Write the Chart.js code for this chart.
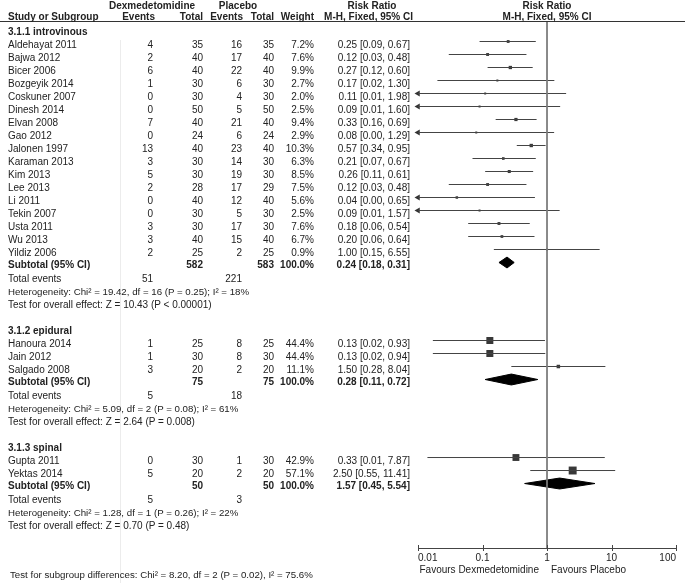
<!DOCTYPE html>
<html>
<head>
<meta charset="utf-8">
<script src="https://cdn.jsdelivr.net/npm/chart.js@4.4.0/dist/chart.umd.min.js"></script>
<style>
  html, body { margin: 0; padding: 0; background: #fff; }
  #wrap { position: relative; width: 685px; height: 583px; overflow: hidden;
          font-family: "Liberation Sans", Arial, sans-serif; font-size: 10px; color: #222; }
  #plot { position: absolute; left: 0; top: 0; }
  .t { position: absolute; white-space: nowrap; line-height: 12px; }
  .b { font-weight: bold; }
  #rule { position: absolute; left: 0; top: 21px; width: 685px; height: 1px; background: #333; }
  #sep { position: absolute; left: 120px; top: 40px; width: 1px; height: 543px; background: #ececec; }
</style>
</head>
<body>
<div id="wrap">
  <div id="sep"></div>
  <canvas id="plot" width="685" height="583"></canvas>
  <div id="rule"></div>
</div>
<script>
// subgroups
const groupNames = ['3.1.1 introvinous', '3.1.2 epidural', '3.1.3 spinal'];

// studies (group index, events, totals, weight, risk ratio and 95% CI)
const studies = ['Aldehayat 2011', 'Bajwa 2012', 'Bicer 2006', 'Bozgeyik 2014', 'Coskuner 2007',
  'Dinesh 2014', 'Elvan 2008', 'Gao 2012', 'Jalonen 1997', 'Karaman 2013', 'Kim 2013', 'Lee 2013',
  'Li 2011', 'Tekin 2007', 'Usta 2011', 'Wu 2013', 'Yildiz 2006',
  'Hanoura 2014', 'Jain 2012', 'Salgado 2008',
  'Gupta 2011', 'Yektas 2014'];
const studyGroup = [0, 0, 0, 0, 0, 0, 0, 0, 0, 0, 0, 0, 0, 0, 0, 0, 0, 1, 1, 1, 2, 2];
const dexEvents = [4, 2, 6, 1, 0, 0, 7, 0, 13, 3, 5, 2, 0, 0, 3, 3, 2, 1, 1, 3, 0, 5];
const dexTotal = [35, 40, 40, 30, 30, 50, 40, 24, 40, 30, 30, 28, 40, 30, 30, 40, 25, 25, 30, 20, 30, 20];
const plaEvents = [16, 17, 22, 6, 4, 5, 21, 6, 23, 14, 19, 17, 12, 5, 17, 15, 2, 8, 8, 2, 1, 2];
const plaTotal = [35, 40, 40, 30, 30, 50, 40, 24, 40, 30, 30, 29, 40, 30, 30, 40, 25, 25, 30, 20, 30, 20];
const weights = [7.2, 7.6, 9.9, 2.7, 2.0, 2.5, 9.4, 2.9, 10.3, 6.3, 8.5, 7.5, 5.6, 2.5, 7.6, 6.7, 0.9,
  44.4, 44.4, 11.1, 42.9, 57.1];
const riskRatio = [0.25, 0.12, 0.27, 0.17, 0.11, 0.09, 0.33, 0.08, 0.57, 0.21, 0.26, 0.12, 0.04, 0.09,
  0.18, 0.20, 1.00, 0.13, 0.13, 1.50, 0.33, 2.50];
const ciLow = [0.09, 0.03, 0.12, 0.02, 0.006, 0.006, 0.16, 0.004, 0.34, 0.07, 0.11, 0.03, 0.002, 0.006,
  0.06, 0.06, 0.15, 0.017, 0.017, 0.28, 0.014, 0.55];
const ciHigh = [0.67, 0.48, 0.60, 1.30, 1.98, 1.60, 0.69, 1.29, 0.95, 0.67, 0.61, 0.48, 0.65, 1.57,
  0.54, 0.64, 6.55, 0.93, 0.94, 8.04, 7.87, 11.41];

// subtotals
const subDexTotal = [582, 75, 50];
const subPlaTotal = [583, 75, 50];
const subDexEvents = [51, 5, 5];
const subPlaEvents = [221, 18, 3];
const subRatio = [0.24, 0.28, 1.57];
const subLow = [0.18, 0.11, 0.45];
const subHigh = [0.31, 0.72, 5.54];
const heterogeneity = [
  'Heterogeneity: Chi² = 19.42, df = 16 (P = 0.25); I² = 18%',
  'Heterogeneity: Chi² = 5.09, df = 2 (P = 0.08); I² = 61%',
  'Heterogeneity: Chi² = 1.28, df = 1 (P = 0.26); I² = 22%'];
const overallEffect = [
  'Test for overall effect: Z = 10.43 (P < 0.00001)',
  'Test for overall effect: Z = 2.64 (P = 0.008)',
  'Test for overall effect: Z = 0.70 (P = 0.48)'];
const subgroupTest = 'Test for subgroup differences: Chi² = 8.20, df = 2 (P = 0.02), I² = 75.6%';

const tickValues = [0.01, 0.1, 1, 10, 100];

// ---- layout ----
const W = 685;
const yMin = -0.5, yMax = 39.96;
const xMin = tickValues[0], xMax = tickValues[tickValues.length - 1];

// one row per line of the table
const rows = [];
groupNames.forEach((g, gi) => {
  rows.push({ kind: 'group', g: gi });
  studies.forEach((s, i) => { if (studyGroup[i] === gi) rows.push({ kind: 'study', i: i }); });
  rows.push({ kind: 'subtotal', g: gi });
  rows.push({ kind: 'events', g: gi });
  rows.push({ kind: 'het', g: gi });
  rows.push({ kind: 'z', g: gi });
  rows.push({ kind: 'blank' });
});
rows.forEach((r, k) => { r.y = k; });

const fmt = v => v.toFixed(2);
const rrText = (rr, lo, hi) => fmt(rr) + ' [' + fmt(lo) + ', ' + fmt(hi) + ']';

// ---- datasets ----
const datasets = [];

// line of no effect
datasets.push({
  type: 'line', data: [{ x: 1, y: yMin }, { x: 1, y: yMax }],
  borderColor: '#7a7a7a', borderWidth: 1, pointRadius: 0
});

const studyRows = rows.filter(r => r.kind === 'study');

// confidence interval lines
studyRows.forEach(r => {
  datasets.push({
    type: 'line', data: [{ x: ciLow[r.i], y: r.y }, { x: ciHigh[r.i], y: r.y }],
    borderColor: '#444', borderWidth: 1, pointRadius: 0
  });
});

// arrows for intervals running off the left edge
const arrowRows = studyRows.filter(r => ciLow[r.i] < xMin);
datasets.push({
  type: 'scatter', data: arrowRows.map(r => ({ x: xMin, y: r.y })),
  pointStyle: 'triangle', rotation: -90, pointRadius: 3.5,
  backgroundColor: '#333', borderWidth: 0, clip: false
});

// weighted squares
datasets.push({
  type: 'scatter', data: studyRows.map(r => ({ x: riskRatio[r.i], y: r.y })),
  pointStyle: 'rect',
  pointRadius: studyRows.map(r => Math.max(1.05 * Math.sqrt(weights[r.i]), 2) / Math.SQRT2),
  backgroundColor: '#383838', borderWidth: 0
});

// subtotal diamonds
const dh = 0.42;
rows.filter(r => r.kind === 'subtotal').forEach(r => {
  const g = r.g;
  datasets.push({
    type: 'line',
    data: [{ x: subLow[g], y: r.y }, { x: subRatio[g], y: r.y - dh }, { x: subHigh[g], y: r.y },
           { x: subRatio[g], y: r.y + dh }, { x: subLow[g], y: r.y }],
    borderColor: '#000', borderWidth: 1, backgroundColor: '#000', fill: 'shape', pointRadius: 0
  });
});

// small tick marks across the axis line
const axisTicks = {
  id: 'axisTicks',
  afterDraw(chart) {
    const xs = chart.scales.x, ctx = chart.ctx, yb = chart.chartArea.bottom;
    ctx.save();
    ctx.strokeStyle = '#444';
    ctx.lineWidth = 1;
    tickValues.forEach(v => {
      const px = Math.round(xs.getPixelForValue(v)) + 0.5;
      ctx.beginPath();
      ctx.moveTo(px, yb - 3);
      ctx.lineTo(px, yb + 3);
      ctx.stroke();
    });
    ctx.restore();
  }
};

const chart = new Chart(document.getElementById('plot'), {
  type: 'line',
  data: { datasets: datasets },
  options: {
    responsive: false,
    animation: false,
    devicePixelRatio: 1,
    layout: { padding: { left: 418, right: 9, top: 22, bottom: 0 } },
    elements: { line: { tension: 0 } },
    plugins: { legend: { display: false }, tooltip: { enabled: false } },
    scales: {
      x: {
        type: 'logarithmic', min: xMin, max: xMax,
        afterBuildTicks: s => { s.ticks = tickValues.map(v => ({ value: v })); },
        afterFit: s => { s.height = 35; },
        ticks: {
          callback: v => String(v), autoSkip: false, maxRotation: 0, align: 'inner', padding: 4,
          color: '#222', font: { family: '"Liberation Sans", Arial, sans-serif', size: 10 }
        },
        grid: { drawOnChartArea: false, drawTicks: false },
        border: { color: '#444', width: 1 }
      },
      y: { type: 'linear', reverse: true, min: yMin, max: yMax, display: false }
    }
  },
  plugins: [axisTicks]
});

// ---- table text ----
const wrap = document.getElementById('wrap');
function addText(txt, x, yc, align, bold, size) {
  const d = document.createElement('div');
  d.className = 't' + (bold ? ' b' : '');
  d.textContent = txt;
  if (size) d.style.fontSize = size + 'px';
  d.style.top = (yc - 6) + 'px';
  if (align === 'right') d.style.right = (W - x) + 'px';
  else if (align === 'center') {
    d.style.left = (x - 100) + 'px';
    d.style.width = '200px';
    d.style.textAlign = 'center';
  } else d.style.left = x + 'px';
  wrap.appendChild(d);
}

const col = { study: 8, dexEv: 153, dexTot: 203, plaEv: 242, plaTot: 274, weight: 314, rr: 410 };
const xOne = chart.scales.x.getPixelForValue(1);

// headers
addText('Dexmedetomidine', 152, 6, 'center', true);
addText('Placebo', 238, 6, 'center', true);
addText('Risk Ratio', 372, 6, 'center', true);
addText('Risk Ratio', xOne, 6, 'center', true);
addText('Study or Subgroup', col.study, 17, 'left', true);
addText('Events', 155, 17, 'right', true);
addText('Total', col.dexTot, 17, 'right', true);
addText('Events', 243, 17, 'right', true);
addText('Total', col.plaTot, 17, 'right', true);
addText('Weight', col.weight, 17, 'right', true);
addText('M-H, Fixed, 95% CI', 413, 17, 'right', true);
addText('M-H, Fixed, 95% CI', xOne, 17, 'center', true);

rows.forEach(r => {
  const yc = chart.scales.y.getPixelForValue(r.y) + 3;
  if (r.kind === 'group') {
    addText(groupNames[r.g], col.study, yc, 'left', true);
  } else if (r.kind === 'study') {
    const i = r.i;
    addText(studies[i], col.study, yc, 'left', false);
    addText(String(dexEvents[i]), col.dexEv, yc, 'right', false);
    addText(String(dexTotal[i]), col.dexTot, yc, 'right', false);
    addText(String(plaEvents[i]), col.plaEv, yc, 'right', false);
    addText(String(plaTotal[i]), col.plaTot, yc, 'right', false);
    addText(weights[i].toFixed(1) + '%', col.weight, yc, 'right', false);
    addText(rrText(riskRatio[i], ciLow[i], ciHigh[i]), col.rr, yc, 'right', false);
  } else if (r.kind === 'subtotal') {
    const g = r.g;
    addText('Subtotal (95% CI)', col.study, yc - 1, 'left', true);
    addText(String(subDexTotal[g]), col.dexTot, yc - 1, 'right', true);
    addText(String(subPlaTotal[g]), col.plaTot, yc - 1, 'right', true);
    addText('100.0%', col.weight, yc - 1, 'right', true);
    addText(rrText(subRatio[g], subLow[g], subHigh[g]), col.rr, yc - 1, 'right', true);
  } else if (r.kind === 'events') {
    addText('Total events', col.study, yc, 'left', false);
    addText(String(subDexEvents[r.g]), col.dexEv, yc, 'right', false);
    addText(String(subPlaEvents[r.g]), col.plaEv, yc, 'right', false);
  } else if (r.kind === 'het') {
    addText(heterogeneity[r.g], col.study, yc, 'left', false, 9.7);
  } else if (r.kind === 'z') {
    addText(overallEffect[r.g], col.study, yc, 'left', false);
  }
});

addText('Favours Dexmedetomidine', xOne - 8, 570, 'right', false);
addText('Favours Placebo', xOne + 4, 570, 'left', false);
addText(subgroupTest, 10, 575, 'left', false, 9.7);
</script>
</body>
</html>
